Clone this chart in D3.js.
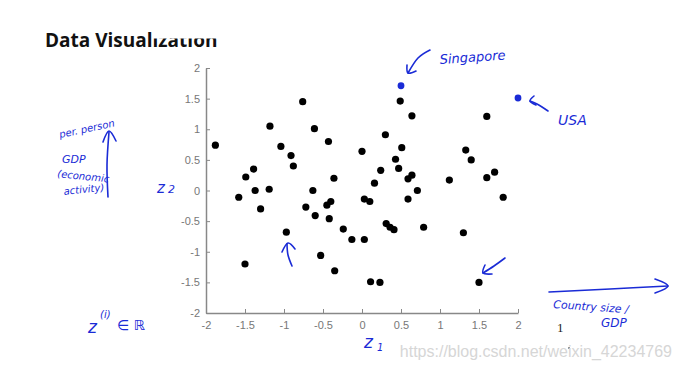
<!DOCTYPE html>
<html>
<head>
<meta charset="utf-8">
<script src="https://cdn.jsdelivr.net/npm/d3@7"></script>
<style>
  body { margin: 0; background: #fff; }
  svg { display: block; }
  .tick text { font-family: "Liberation Sans", Arial, sans-serif; font-size: 11px; fill: #777; }
  .hand { font-family: "DejaVu Sans", sans-serif; fill: #1a2bd6; font-style: italic; }
</style>
</head>
<body>
<div id="chart"></div>
<script>
// ------------------------------------------------------------
// Data
// ------------------------------------------------------------
const z1 = [-1.88, -1.18, -0.76, -0.61, -0.43, -1.04, -0.91, -0.88, -1.39, -1.49,
            -0.36, 0.00, -1.37, -1.19, -0.63, -1.58, -1.30, -0.72, -0.60, -0.45,
            -0.40, -0.42, -0.97, -0.24, -0.13, -0.53, -0.35, -1.50, 0.49, 0.64,
            1.60, 0.30, 0.51, 1.33, 1.40, 0.43, 0.24, 0.47, 0.16, 0.64,
            0.59, 1.12, 1.60, 1.70, 0.71, 1.81, 0.03, 0.10, 0.59, 0.03,
            0.31, 0.36, 0.41, 0.79, 1.30, 0.11, 0.23, 1.50];
const z2 = [0.74, 1.05, 1.45, 1.01, 0.80, 0.72, 0.57, 0.40, 0.35, 0.22,
            0.20, 0.64, 0.00, 0.02, 0.00, -0.11, -0.30, -0.27, -0.41, -0.24,
            -0.18, -0.46, -0.68, -0.63, -0.80, -1.06, -1.31, -1.20, 1.46, 1.22,
            1.21, 0.91, 0.70, 0.66, 0.50, 0.51, 0.33, 0.36, 0.12, 0.25,
            0.19, 0.17, 0.21, 0.30, 0.00, -0.11, -0.14, -0.18, -0.14, -0.80,
            -0.54, -0.60, -0.64, -0.60, -0.69, -1.49, -1.50, -1.50];

// highlighted countries
const countries = ["Singapore", "USA"];
const hiZ1 = [0.50, 2.00];
const hiZ2 = [1.71, 1.51];

const ticks = [-2, -1.5, -1, -0.5, 0, 0.5, 1, 1.5, 2];

// ------------------------------------------------------------
// Chart
// ------------------------------------------------------------
const width = 682, height = 369;
const svg = d3.select("#chart").append("svg")
    .attr("width", width)
    .attr("height", height);

const x = d3.scaleLinear().domain([-2, 2]).range([206, 518]);
const y = d3.scaleLinear().domain([-2, 2]).range([313, 68]);

// slide title (top part of "ization" is hidden on the slide)
svg.append("text")
    .attr("x", 45).attr("y", 47)
    .attr("font-family", "'Open Sans', 'DejaVu Sans', sans-serif")
    .attr("font-weight", "bold")
    .attr("font-size", "19px")
    .attr("fill", "#111")
    .text("Data Visualization");
svg.append("rect")
    .attr("x", 152).attr("y", 20).attr("width", 80).attr("height", 18.5)
    .attr("fill", "#fff");

// axes, MATLAB style ticks pointing inward
const fmt = d => String(d);
const xAxis = svg.append("g")
    .attr("transform", `translate(0,${y(-2)})`)
    .call(d3.axisBottom(x).tickValues(ticks).tickFormat(fmt).tickSizeInner(-4).tickSizeOuter(0).tickPadding(6));
const yAxis = svg.append("g")
    .attr("transform", `translate(${x(-2)},0)`)
    .call(d3.axisLeft(y).tickValues(ticks).tickFormat(fmt).tickSizeInner(-4).tickSizeOuter(0).tickPadding(6));
[xAxis, yAxis].forEach(g => {
    g.select(".domain").attr("stroke", "#888").attr("stroke-width", 1.5);
    g.selectAll(".tick line").attr("stroke", "#888");
});
xAxis.selectAll(".tick text").attr("dy", "0.9em");

// points
svg.append("g").selectAll("circle")
    .data(z1.map((d, i) => [d, z2[i]]))
    .enter()
    .append("circle")
    .attr("cx", d => x(d[0]))
    .attr("cy", d => y(d[1]))
    .attr("r", 3.6)
    .attr("fill", "#000");

svg.append("g").selectAll("circle")
    .data(countries.map((c, i) => [hiZ1[i], hiZ2[i]]))
    .enter()
    .append("circle")
    .attr("cx", d => x(d[0]))
    .attr("cy", d => y(d[1]))
    .attr("r", 3.4)
    .attr("fill", "#1a2bd6");

// ------------------------------------------------------------
// Hand-written annotations
// ------------------------------------------------------------
const blue = "#1a2bd6";
function stroke(pts) {
    svg.append("path")
        .attr("d", d3.line().curve(d3.curveCardinal)(pts))
        .attr("fill", "none")
        .attr("stroke", blue)
        .attr("stroke-width", 1.6)
        .attr("stroke-linecap", "round")
        .attr("stroke-linejoin", "round");
}
function hand(txt, px, py, size, rot) {
    svg.append("text")
        .attr("class", "hand")
        .attr("x", px).attr("y", py)
        .attr("font-size", size + "px")
        .attr("transform", rot ? `rotate(${rot},${px},${py})` : null)
        .text(txt);
}

// Singapore
hand("Singapore", 440, 64, 13, -4);
stroke([[430, 50], [418, 58], [408, 73]]);
stroke([[407, 65], [408, 73], [416, 71]]);
// USA
hand("USA", 558, 125, 14, 0);
stroke([[548, 111], [537, 104], [530, 101]]);
stroke([[534, 96], [530, 101], [536, 105]]);

// left side
hand("per. person", 60, 138, 10, -12);
hand("GDP", 62, 163, 11, 0);
hand("(economic", 57, 177, 10, 6);
hand("activity)", 64, 195, 10, -6);
stroke([[108, 197], [107, 165], [109, 132]]);
stroke([[103, 142], [109, 131], [116, 141]]);
hand("z", 157, 193, 15, 0);
hand("2", 168, 193, 11, 0);

// arrows inside plot
stroke([[292, 266], [288, 255], [287, 244]]);
stroke([[282, 252], [288, 243], [295, 249]]);
stroke([[505, 258], [494, 266], [483, 273]]);
stroke([[485, 265], [483, 273], [492, 274]]);

// bottom
hand("z", 88, 333, 17, 0);
hand("(i)", 100, 318, 10, 0);
hand("\u2208 \u211D", 117, 330, 14, 0);
hand("z", 364, 348, 17, 0);
hand("1", 377, 351, 10, 0);

// horizontal arrow and label
stroke([[549, 292], [610, 289], [668, 286]]);
stroke([[655, 279], [668, 286], [655, 293]]);
hand("Country size /", 553, 308, 11, 4);
hand("GDP", 601, 327, 12, 0);

// slide leftovers
svg.append("text")
    .attr("x", 557).attr("y", 332)
    .attr("font-family", "'Liberation Serif', serif")
    .attr("font-size", "13px")
    .attr("fill", "#222")
    .text("1");
svg.append("circle").attr("cx", 569).attr("cy", 348).attr("r", 0.9).attr("fill", "#666");

// watermark
svg.append("text")
    .attr("x", 672).attr("y", 357)
    .attr("text-anchor", "end")
    .attr("font-family", "'Liberation Sans', Arial, sans-serif")
    .attr("font-size", "16px")
    .attr("fill", "#d6d6d6")
    .text("https://blog.csdn.net/weixin_42234769");
</script>
</body>
</html>
